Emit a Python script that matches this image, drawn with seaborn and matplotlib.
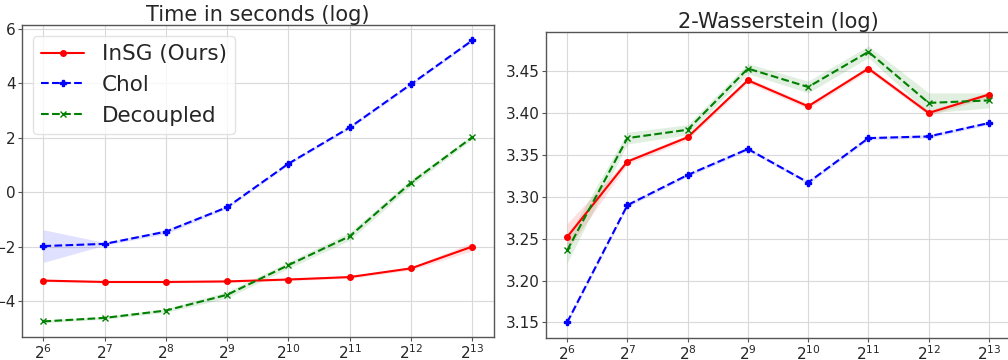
import numpy as np
import pandas as pd
import matplotlib
matplotlib.use("Agg")
import matplotlib.pyplot as plt
import seaborn as sns

exponents = [6, 7, 8, 9, 10, 11, 12, 13]
xtick_labels = [f"$2^{{{e}}}$" for e in exponents]
methods = ["InSG (Ours)", "Chol", "Decoupled"]

time_insg = [-3.25, -3.30, -3.30, -3.28, -3.21, -3.12, -2.80, -2.00]
time_chol = [-1.98, -1.90, -1.45, -0.55, 1.05, 2.38, 3.97, 5.58]
time_dec = [-4.75, -4.62, -4.35, -3.77, -2.68, -1.62, 0.35, 2.02]
time_insg_err = [0.04, 0.03, 0.03, 0.04, 0.04, 0.05, 0.06, 0.15]
time_chol_err = [0.60, 0.05, 0.08, 0.05, 0.05, 0.05, 0.05, 0.05]
time_dec_err = [0.05, 0.05, 0.07, 0.12, 0.12, 0.15, 0.12, 0.08]

w2_insg = [3.252, 3.342, 3.371, 3.439, 3.408, 3.453, 3.400, 3.422]
w2_chol = [3.150, 3.290, 3.326, 3.357, 3.317, 3.370, 3.372, 3.388]
w2_dec = [3.236, 3.370, 3.380, 3.453, 3.431, 3.473, 3.412, 3.415]
w2_insg_err = [0.016, 0.003, 0.003, 0.003, 0.003, 0.003, 0.003, 0.003]
w2_chol_err = [0.002, 0.002, 0.002, 0.002, 0.002, 0.002, 0.002, 0.002]
w2_dec_err = [0.015, 0.007, 0.006, 0.006, 0.007, 0.007, 0.012, 0.009]

colors = {"InSG (Ours)": "red", "Chol": "blue", "Decoupled": "green"}
markers = {"InSG (Ours)": "o", "Chol": "P", "Decoupled": "x"}
linestyles = {"InSG (Ours)": "-", "Chol": "--", "Decoupled": "--"}

sns.set_style("whitegrid", {
    "axes.edgecolor": "#555555",
    "grid.color": "#d9d9d9",
    "xtick.bottom": True,
    "ytick.left": True,
})
plt.rcParams["font.family"] = ["DejaVu Sans"]

fig = plt.figure(figsize=(10.08, 3.6), dpi=100)
ax1 = fig.add_axes([0.0218, 0.064, 0.468, 0.867])
ax2 = fig.add_axes([0.5417, 0.061, 0.4603, 0.850])


def draw(ax, vals, errs, title):
    for m, v, e in zip(methods, vals, errs):
        df = pd.DataFrame({"exp": exponents, "val": v})
        sns.lineplot(data=df, x="exp", y="val", color=colors[m],
                     marker=markers[m], linestyle=linestyles[m],
                     markersize=4, linewidth=1.5, ax=ax, label=m,
                     markeredgewidth=1.0, markeredgecolor=colors[m])
        v = np.array(v); e = np.array(e)
        ax.fill_between(exponents, v - e, v + e, color=colors[m], alpha=0.12,
                        linewidth=0)
    ax.set_xticks(exponents)
    ax.set_xticklabels(xtick_labels)
    ax.set_xlabel("")
    ax.set_ylabel("")
    ax.set_title(title, fontsize=15, pad=3)
    ax.tick_params(labelsize=11, length=3, color="#555555", pad=1.5)
    for s in ax.spines.values():
        s.set_linewidth(1.0)


draw(ax1, [time_insg, time_chol, time_dec],
     [time_insg_err, time_chol_err, time_dec_err],
     "Time in seconds (log)")
draw(ax2, [w2_insg, w2_chol, w2_dec],
     [w2_insg_err, w2_chol_err, w2_dec_err],
     "2-Wasserstein (log)")

ax1.set_yticks([-4, -2, 0, 2, 4, 6])
w2_ticks = [3.15, 3.20, 3.25, 3.30, 3.35, 3.40, 3.45]
ax2.set_yticks(w2_ticks)
ax2.set_yticklabels([f"{v:.2f}" for v in w2_ticks])

ax2.get_legend().remove()
leg = ax1.legend(loc="upper left", fontsize=15.5, frameon=True,
                 handlelength=2.0, handletextpad=0.8, borderaxespad=0.5,
                 labelspacing=0.5, borderpad=0.4)
leg.get_frame().set_edgecolor("#dddddd")

fig.savefig("out.png", dpi=100)
